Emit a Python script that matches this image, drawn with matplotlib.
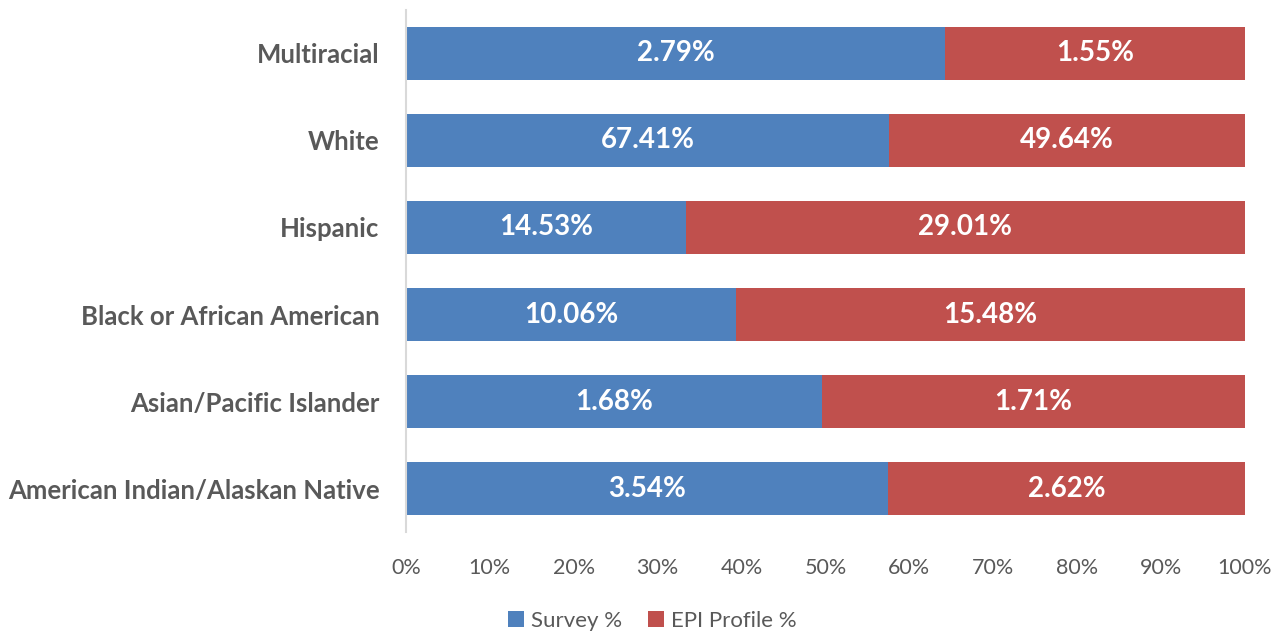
import matplotlib.pyplot as plt
import numpy as np

categories = ['American Indian/Alaskan Native', 'Asian/Pacific Islander', 'Black or African American',
              'Hispanic', 'White', 'Multiracial']
survey = [3.54, 1.68, 10.06, 14.53, 67.41, 2.79]
epi = [2.62, 1.71, 15.48, 29.01, 49.64, 1.55]
ticks = [0, 10, 20, 30, 40, 50, 60, 70, 80, 90, 100]

plt.rcParams['font.family'] = ['Lato', 'DejaVu Sans']

survey = np.array(survey)
epi = np.array(epi)
total = survey + epi
s_pct = survey / total * 100
e_pct = epi / total * 100
y = np.arange(len(categories))

fig = plt.figure(figsize=(12.79, 6.32), dpi=100)
ax = fig.add_axes([0.3174, 0.1582, 0.656, 0.826])

blue = '#4F81BD'
red = '#C0504D'
ax.barh(y, s_pct, height=0.6, color=blue, label='Survey %')
ax.barh(y, e_pct, left=s_pct, height=0.6, color=red, label='EPI Profile %')

for i in range(len(categories)):
    ax.text(s_pct[i] / 2, y[i], f'{survey[i]:.2f}%', ha='center', va='center',
            color='white', fontsize=20, fontweight='bold')
    ax.text(s_pct[i] + e_pct[i] / 2, y[i], f'{epi[i]:.2f}%', ha='center', va='center',
            color='white', fontsize=20, fontweight='bold')

ax.set_xlim(0, 100)
ax.set_ylim(-0.5, len(categories) - 0.5)
ax.set_xticks(ticks)
ax.set_xticklabels([f'{t}%' for t in ticks], fontsize=15.5, color='#595959')
ax.set_yticks(y)
ax.set_yticklabels(categories, fontsize=18.5, fontweight='bold', color='#595959')
ax.tick_params(length=0)
ax.tick_params(axis='x', pad=19)
ax.tick_params(axis='y', pad=19)
for s in ['top', 'right', 'bottom']:
    ax.spines[s].set_visible(False)
ax.spines['left'].set_color('#D9D9D9')
ax.spines['left'].set_linewidth(1.5)

leg = fig.legend(loc='center', bbox_to_anchor=(0.51, 0.018), ncol=2, frameon=False,
                 fontsize=16, handlelength=0.7, handleheight=0.7, handletextpad=0.3,
                 columnspacing=1.2)
for t in leg.get_texts():
    t.set_color('#595959')

plt.savefig('out.png')
